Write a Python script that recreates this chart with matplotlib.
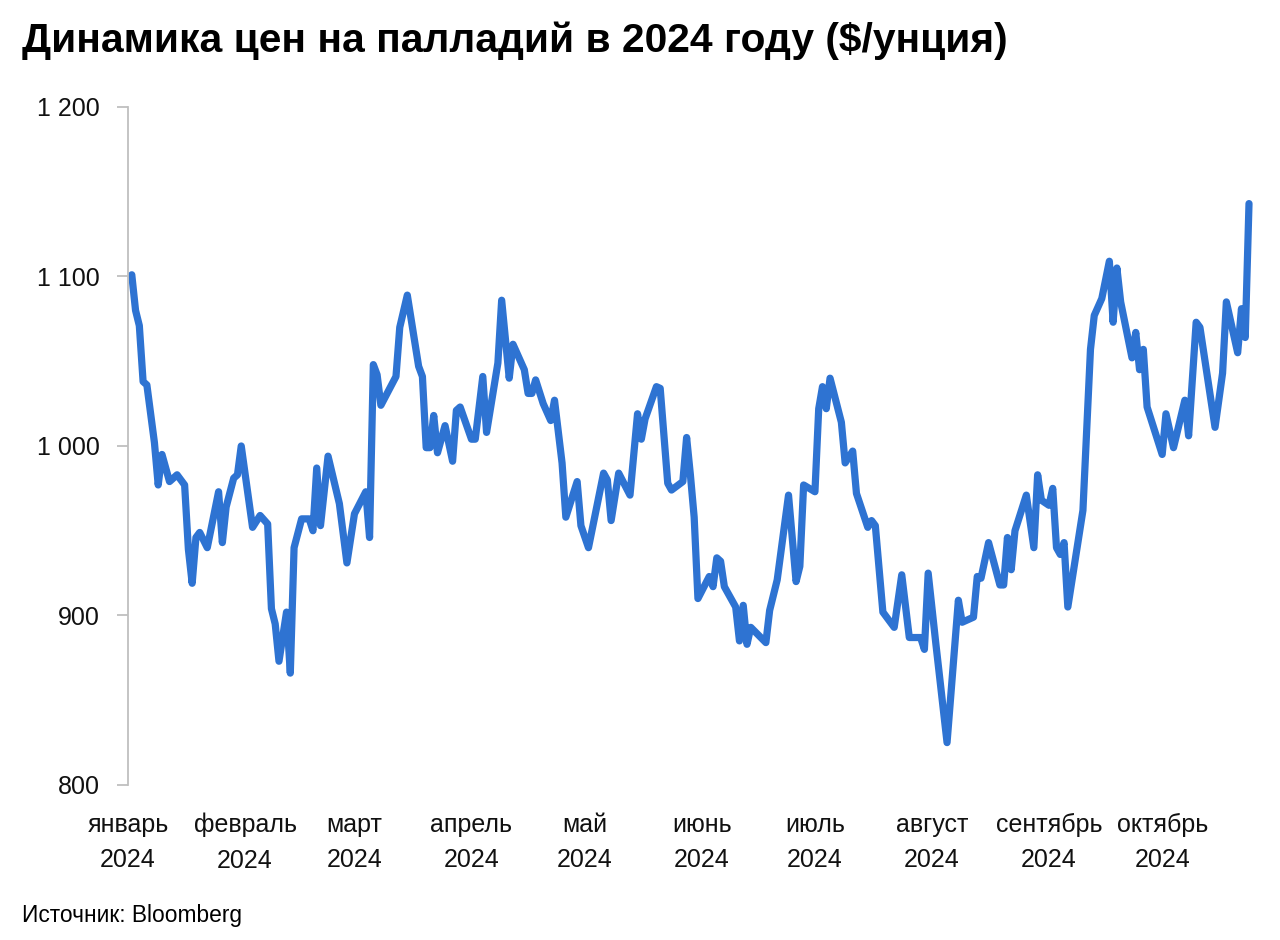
import matplotlib
matplotlib.use("Agg")
import matplotlib.pyplot as plt
import pandas as pd

# days since 1 Jan 2024 and palladium price ($/oz)
days = [
    1, 2, 3, 4, 5, 7, 8, 9, 11, 13, 15, 16, 17, 18, 19, 21, 24, 25, 26, 28,
    29, 30, 33, 35, 37, 38, 39, 40, 42, 43, 44, 46, 48, 49, 50, 51, 53, 56, 58, 60,
    63, 64, 65, 66, 67, 71, 72, 74, 77, 78, 79, 80, 81, 82, 84, 86, 87, 88, 91, 92,
    94, 95, 98, 99, 101, 102, 105, 106, 107, 108, 110, 112, 113, 115, 116, 119, 120, 122, 126, 127,
    128, 130, 133, 135, 136, 137, 140, 141, 143, 144, 147, 148, 149, 150, 151, 154, 155, 156, 157, 158,
    161, 162, 163, 164, 165, 169, 170, 172, 175, 177, 178, 179, 182, 183, 184, 185, 186, 189, 190, 192,
    193, 196, 197, 198, 200, 203, 205, 207, 210, 211, 212, 214, 217, 220, 221, 224, 225, 226, 228, 231,
    232, 233, 234, 235, 238, 240, 241, 242, 244, 245, 246, 247, 248, 249, 253, 255, 256, 258, 260, 261,
    262, 263, 266, 267, 268, 269, 270, 274, 275, 277, 280, 281, 283, 284, 288, 290, 291, 294, 295, 296,
    297,
]
prices = [
    1101, 1080, 1071, 1038, 1036, 1002, 977, 995, 979, 983, 977, 939, 919, 946, 949, 940, 973, 943, 964, 981,
    983, 1000, 952, 959, 954, 904, 895, 873, 902, 866, 940, 957, 957, 950, 987, 953, 994, 966, 931, 960,
    973, 946, 1048, 1042, 1024, 1041, 1070, 1089, 1047, 1041, 999, 999, 1018, 996, 1012, 991, 1021, 1023, 1004, 1004,
    1041, 1008, 1049, 1086, 1040, 1060, 1045, 1031, 1031, 1039, 1025, 1015, 1027, 990, 958, 979, 953, 940, 984, 980,
    956, 984, 971, 1019, 1004, 1016, 1035, 1034, 978, 974, 979, 1005, 983, 958, 910, 923, 917, 934, 932, 917,
    905, 885, 906, 883, 893, 884, 903, 921, 971, 920, 929, 977, 973, 1022, 1035, 1022, 1040, 1014, 990, 997,
    972, 952, 956, 953, 902, 893, 924, 887, 887, 880, 925, 884, 825, 909, 896, 899, 923, 922, 943, 918,
    918, 946, 927, 950, 971, 940, 983, 968, 965, 975, 940, 936, 943, 905, 962, 1057, 1077, 1087, 1109, 1073,
    1105, 1085, 1052, 1067, 1045, 1057, 1023, 995, 1019, 999, 1027, 1006, 1073, 1070, 1011, 1043, 1085, 1055, 1081, 1064,
    1143,
]

month_labels = ["январь", "февраль", "март", "апрель", "май",
                "июнь", "июль", "август", "сентябрь", "октябрь"]
y_ticks = [800, 900, 1000, 1100, 1200]

plt.rcParams["font.family"] = ["Liberation Sans", "DejaVu Sans"]

start = pd.Timestamp("2024-01-01")
dates = start + pd.to_timedelta(days, unit="D")
month_starts = pd.date_range("2024-01-01", periods=len(month_labels), freq="MS")

fig = plt.figure(figsize=(12.8, 9.4), dpi=100)
ax = fig.add_axes([0.1, 0.1649, 0.8805, 0.7213])

ax.plot(dates, prices, color="#2e73d2", linewidth=5.2, solid_joinstyle="round",
        solid_capstyle="round")

ax.set_ylim(800, 1200)
ax.set_xlim(start, start + pd.Timedelta(days=298.6))

ax.set_yticks(y_ticks)
ax.set_yticklabels([f"{v:,}".replace(",", " ") for v in y_ticks])
ax.set_xticks(month_starts)
ax.set_xticklabels([f"{m}\n2024" for m in month_labels], linespacing=1.6)

for side in ["top", "right", "bottom"]:
    ax.spines[side].set_visible(False)
ax.spines["left"].set_color("#bfbfbf")
ax.spines["left"].set_linewidth(1.3)

ax.tick_params(axis="y", length=8, width=1.3, color="#bfbfbf", labelsize=18,
               pad=12, labelcolor="#111111")
ax.tick_params(axis="x", length=0, labelsize=18, pad=20, labelcolor="#111111")

fig.text(0.017, 0.957, "Динамика цен на палладий в 2024 году ($/унция)",
         fontsize=29.3, fontweight="bold", va="center", ha="left")
fig.text(0.017, 0.026, "Источник: Bloomberg", fontsize=16.4, va="center", ha="left")

fig.savefig("out.png", dpi=100)
